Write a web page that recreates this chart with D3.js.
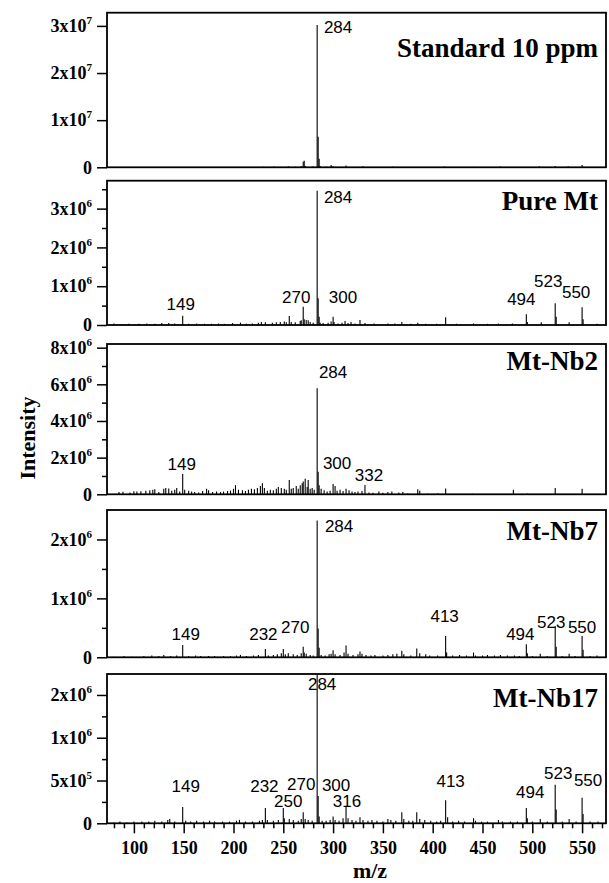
<!DOCTYPE html>
<html>
<head>
<meta charset="utf-8">
<script src="https://cdn.jsdelivr.net/npm/d3@7"></script>
<style>
  body { margin: 0; background: #fff; }
</style>
</head>
<body>
<svg id="chart" width="609" height="883"></svg>
<script>
// ---- data ----
const panelNames = ['Standard 10 ppm', 'Pure Mt', 'Mt-Nb2', 'Mt-Nb7', 'Mt-Nb17'];
const panelMax = [3.28e7, 3.72e6, 8.2e6, 2.5e6, 1.745e6];

const yTickValues = [
  [0, 1e7, 2e7, 3e7],
  [0, 1e6, 2e6, 3e6],
  [0, 2e6, 4e6, 6e6, 8e6],
  [0, 1e6, 2e6],
  [0, 5e5, 1e6, 1.5e6]
];
// labels as printed (the 1.5x10^6 tick is printed rounded as 2x10^6)
const yTickLabels = [
  ['0', '1x10^7', '2x10^7', '3x10^7'],
  ['0', '1x10^6', '2x10^6', '3x10^6'],
  ['0', '2x10^6', '4x10^6', '6x10^6', '8x10^6'],
  ['0', '1x10^6', '2x10^6'],
  ['0', '5x10^5', '1x10^6', '2x10^6']
];
const yMinorTicks = [
  [],
  [5e5, 1.5e6, 2.5e6, 3.5e6],
  [1e6, 3e6, 5e6, 7e6],
  [5e5, 1.5e6],
  [2.5e5, 7.5e5, 1.25e6]
];

const xTickValues = [100, 150, 200, 250, 300, 350, 400, 450, 500, 550];
const xMinorTicks = [80, 90, 110, 120, 130, 140, 160, 170, 180, 190, 210, 220, 230, 240,
  260, 270, 280, 290, 310, 320, 330, 340, 360, 370, 380, 390, 410, 420, 430, 440,
  460, 470, 480, 490, 510, 520, 530, 540, 560, 570];

// spectra: m/z and intensity
const stdMz  = [230, 241, 255, 262, 268, 270, 271, 272, 280, 284, 285, 286, 287, 293, 298, 300, 313, 330, 360, 412, 441, 468, 507, 523, 536, 550];
const stdInt = [1e5, 1.5e5, 2e5, 1e5, 3e5, 1.2e6, 1.4e6, 3e5, 2e5, 3.02e7, 6.5e6, 1.8e6, 3e5, 1e5, 5e5, 3e5, 4e5, 2e5, 1.5e5, 1.5e5, 1e5, 1.5e5, 2e5, 3e5, 2e5, 5e5];

const pureMz  = [80, 88, 95, 105, 113, 121, 128, 135, 141, 149, 155, 163, 171, 178, 185, 191, 199, 207, 213, 219, 225, 228, 232, 239, 243, 247, 251, 253, 256, 258, 262, 267, 268, 270, 271, 273, 275, 277, 280, 284, 285, 286, 287, 290, 295, 298, 300, 301, 305, 309, 312, 315, 318, 322, 327, 332, 341, 355, 362, 369, 378, 385, 393, 404, 413, 424, 441, 455, 466, 480, 494, 495, 509, 523, 524, 537, 550, 551, 565];
const pureInt = [0.04e6, 0.02e6, 0.03e6, 0.03e6, 0.04e6, 0.03e6, 0.05e6, 0.05e6, 0.04e6, 0.24e6, 0.03e6, 0.04e6, 0.03e6, 0.03e6, 0.04e6, 0.03e6, 0.05e6, 0.06e6, 0.03e6, 0.04e6, 0.06e6, 0.08e6, 0.07e6, 0.06e6, 0.07e6, 0.08e6, 0.09e6, 0.07e6, 0.23e6, 0.08e6, 0.07e6, 0.1e6, 0.12e6, 0.47e6, 0.15e6, 0.13e6, 0.12e6, 0.08e6, 0.06e6, 3.46e6, 0.69e6, 0.21e6, 0.06e6, 0.05e6, 0.06e6, 0.09e6, 0.21e6, 0.08e6, 0.04e6, 0.06e6, 0.1e6, 0.05e6, 0.08e6, 0.04e6, 0.13e6, 0.05e6, 0.04e6, 0.04e6, 0.04e6, 0.08e6, 0.03e6, 0.06e6, 0.03e6, 0.03e6, 0.2e6, 0.03e6, 0.04e6, 0.03e6, 0.04e6, 0.04e6, 0.28e6, 0.08e6, 0.07e6, 0.56e6, 0.21e6, 0.07e6, 0.46e6, 0.15e6, 0.03e6];

const nb2Mz  = [85, 89, 96, 100, 103, 107, 112, 116, 119, 121, 125, 130, 132, 135, 138, 141, 143, 146, 149, 151, 155, 158, 161, 165, 169, 173, 175, 179, 183, 187, 190, 194, 197, 200, 202, 205, 209, 212, 215, 218, 221, 224, 227, 229, 231, 234, 237, 240, 243, 245, 248, 251, 253, 256, 258, 260, 263, 265, 267, 269, 270, 272, 274, 275, 277, 279, 281, 284, 285, 286, 288, 291, 294, 297, 300, 302, 304, 307, 310, 313, 316, 319, 322, 325, 329, 332, 336, 340, 346, 350, 355, 359, 366, 370, 375, 385, 387, 395, 405, 413, 440, 481, 495, 523, 550];
const nb2Int = [0.12e6, 0.14e6, 0.1e6, 0.17e6, 0.15e6, 0.16e6, 0.2e6, 0.22e6, 0.25e6, 0.28e6, 0.12e6, 0.3e6, 0.35e6, 0.32e6, 0.2e6, 0.25e6, 0.35e6, 0.15e6, 1.11e6, 0.25e6, 0.2e6, 0.15e6, 0.12e6, 0.1e6, 0.18e6, 0.3e6, 0.22e6, 0.12e6, 0.15e6, 0.12e6, 0.15e6, 0.18e6, 0.2e6, 0.3e6, 0.5e6, 0.25e6, 0.22e6, 0.18e6, 0.25e6, 0.3e6, 0.28e6, 0.35e6, 0.45e6, 0.6e6, 0.35e6, 0.2e6, 0.25e6, 0.22e6, 0.3e6, 0.4e6, 0.35e6, 0.3e6, 0.25e6, 0.78e6, 0.3e6, 0.35e6, 0.45e6, 0.3e6, 0.5e6, 0.6e6, 0.7e6, 0.85e6, 0.4e6, 0.78e6, 0.3e6, 0.35e6, 0.25e6, 5.79e6, 1.23e6, 0.5e6, 0.3e6, 0.22e6, 0.15e6, 0.2e6, 0.56e6, 0.45e6, 0.2e6, 0.25e6, 0.18e6, 0.3e6, 0.22e6, 0.15e6, 0.12e6, 0.15e6, 0.18e6, 0.51e6, 0.1e6, 0.08e6, 0.15e6, 0.08e6, 0.12e6, 0.15e6, 0.1e6, 0.12e6, 0.06e6, 0.28e6, 0.2e6, 0.05e6, 0.06e6, 0.32e6, 0.03e6, 0.25e6, 0.04e6, 0.35e6, 0.3e6];

const nb7Mz  = [80, 90, 98, 110, 118, 125, 130, 137, 143, 149, 155, 162, 167, 175, 181, 190, 197, 203, 207, 213, 220, 225, 232, 235, 240, 244, 248, 250, 252, 255, 260, 264, 268, 270, 271, 273, 277, 280, 284, 285, 286, 288, 292, 296, 298, 300, 302, 307, 311, 313, 315, 320, 325, 327, 329, 333, 338, 342, 350, 355, 360, 364, 369, 371, 378, 384, 387, 393, 397, 405, 413, 414, 420, 427, 434, 441, 443, 450, 455, 462, 468, 475, 482, 487, 494, 495, 500, 508, 515, 523, 524, 530, 537, 543, 550, 551, 558, 565];
const nb7Int = [0.01e6, 0.02e6, 0.01e6, 0.02e6, 0.03e6, 0.02e6, 0.04e6, 0.02e6, 0.03e6, 0.21e6, 0.02e6, 0.03e6, 0.02e6, 0.02e6, 0.02e6, 0.02e6, 0.02e6, 0.03e6, 0.04e6, 0.02e6, 0.03e6, 0.04e6, 0.14e6, 0.03e6, 0.04e6, 0.05e6, 0.07e6, 0.14e6, 0.05e6, 0.07e6, 0.05e6, 0.04e6, 0.07e6, 0.18e6, 0.08e6, 0.06e6, 0.04e6, 0.03e6, 2.32e6, 0.49e6, 0.16e6, 0.04e6, 0.03e6, 0.05e6, 0.06e6, 0.12e6, 0.05e6, 0.04e6, 0.08e6, 0.2e6, 0.06e6, 0.04e6, 0.05e6, 0.1e6, 0.06e6, 0.04e6, 0.03e6, 0.04e6, 0.03e6, 0.04e6, 0.05e6, 0.06e6, 0.11e6, 0.05e6, 0.03e6, 0.15e6, 0.07e6, 0.05e6, 0.03e6, 0.03e6, 0.36e6, 0.08e6, 0.03e6, 0.04e6, 0.03e6, 0.08e6, 0.03e6, 0.03e6, 0.04e6, 0.03e6, 0.04e6, 0.03e6, 0.03e6, 0.02e6, 0.22e6, 0.07e6, 0.02e6, 0.06e6, 0.02e6, 0.53e6, 0.18e6, 0.02e6, 0.06e6, 0.02e6, 0.36e6, 0.13e6, 0.02e6, 0.03e6];

const nb17Mz  = [80, 86, 93, 100, 108, 115, 121, 128, 134, 136, 141, 149, 152, 157, 163, 170, 176, 181, 189, 196, 203, 206, 212, 219, 226, 229, 232, 234, 240, 245, 250, 251, 256, 260, 265, 268, 270, 272, 275, 279, 284, 285, 286, 289, 293, 297, 300, 302, 306, 310, 313, 315, 319, 323, 327, 330, 335, 339, 344, 350, 355, 358, 363, 369, 371, 376, 380, 384, 387, 392, 398, 404, 408, 413, 415, 420, 426, 432, 441, 443, 449, 455, 466, 470, 478, 485, 494, 495, 500, 508, 515, 523, 524, 530, 537, 544, 550, 551, 558, 566];
const nb17Int = [0.01e6, 0.02e6, 0.01e6, 0.02e6, 0.02e6, 0.02e6, 0.03e6, 0.02e6, 0.04e6, 0.05e6, 0.02e6, 0.19e6, 0.03e6, 0.02e6, 0.03e6, 0.02e6, 0.03e6, 0.02e6, 0.02e6, 0.02e6, 0.03e6, 0.04e6, 0.02e6, 0.02e6, 0.03e6, 0.04e6, 0.18e6, 0.04e6, 0.03e6, 0.04e6, 0.18e6, 0.06e6, 0.05e6, 0.04e6, 0.03e6, 0.05e6, 0.13e6, 0.05e6, 0.04e6, 0.03e6, 1.74e6, 0.32e6, 0.08e6, 0.03e6, 0.03e6, 0.04e6, 0.08e6, 0.04e6, 0.03e6, 0.06e6, 0.19e6, 0.06e6, 0.04e6, 0.03e6, 0.07e6, 0.04e6, 0.03e6, 0.04e6, 0.03e6, 0.02e6, 0.05e6, 0.04e6, 0.03e6, 0.13e6, 0.05e6, 0.03e6, 0.03e6, 0.13e6, 0.05e6, 0.04e6, 0.03e6, 0.02e6, 0.03e6, 0.27e6, 0.07e6, 0.02e6, 0.03e6, 0.02e6, 0.06e6, 0.03e6, 0.02e6, 0.02e6, 0.04e6, 0.02e6, 0.02e6, 0.02e6, 0.18e6, 0.06e6, 0.02e6, 0.05e6, 0.02e6, 0.45e6, 0.16e6, 0.02e6, 0.05e6, 0.02e6, 0.3e6, 0.11e6, 0.02e6, 0.02e6];

// peak labels: text, centre m/z, baseline intensity
const stdLabels  = [['284', 305, 2.84e7]];
const pureLabels = [['284', 305, 3.14e6], ['149', 147, 0.39e6], ['270', 263, 0.56e6], ['300', 310, 0.56e6],
                    ['494', 489, 0.52e6], ['523', 516, 0.99e6], ['550', 544, 0.69e6]];
const nb2Labels  = [['284', 300, 6.34e6], ['149', 148, 1.33e6], ['300', 304, 1.36e6], ['332', 336, 0.74e6]];
const nb7Labels  = [['284', 306, 2.13e6], ['149', 152, 0.29e6], ['232', 230, 0.29e6], ['270', 262, 0.42e6],
                    ['413', 412, 0.6e6], ['494', 488, 0.29e6], ['523', 519, 0.49e6], ['550', 550, 0.41e6]];
const nb17Labels = [['284', 289, 1.56e6], ['149', 152, 0.37e6], ['232', 231, 0.36e6], ['270', 268, 0.39e6],
                    ['300', 303, 0.38e6], ['250', 255, 0.19e6], ['316', 314, 0.19e6], ['413', 418, 0.42e6],
                    ['494', 498, 0.29e6], ['523', 526, 0.52e6], ['550', 556, 0.44e6]];

const spectra = [
  [stdMz, stdInt, stdLabels],
  [pureMz, pureInt, pureLabels],
  [nb2Mz, nb2Int, nb2Labels],
  [nb7Mz, nb7Int, nb7Labels],
  [nb17Mz, nb17Int, nb17Labels]
];

// ---- layout ----
const svg = d3.select('#chart');
const serif = "'Liberation Serif', 'Times New Roman', serif";
const sans = "'Liberation Sans', Arial, sans-serif";
const left = 107, right = 606;
const panelTop = [12.7, 180.7, 344, 510, 674];
const panelBottom = [167.3, 325, 494.3, 657.3, 823.3];
const titleY = [56.7, 210, 370, 540, 706.7];

const x = d3.scaleLinear().domain([73, 574]).range([left, right]);

spectra.forEach(([mz, inten, labels], i) => {
  const y = d3.scaleLinear().domain([0, panelMax[i]]).range([panelBottom[i], panelTop[i]]);
  const g = svg.append('g');

  // sticks
  g.selectAll('line.peak')
    .data(d3.zip(mz, inten))
    .join('line')
    .attr('class', 'peak')
    .attr('x1', d => x(d[0]))
    .attr('x2', d => x(d[0]))
    .attr('y1', y(0))
    .attr('y2', d => y(d[1]))
    .attr('stroke', '#000')
    .attr('stroke-width', 1.1);

  // frame
  g.append('rect')
    .attr('x', left)
    .attr('y', panelTop[i])
    .attr('width', right - left)
    .attr('height', panelBottom[i] - panelTop[i])
    .attr('fill', 'none')
    .attr('stroke', '#000')
    .attr('stroke-width', 1.8);

  // minor y ticks
  g.append('g')
    .attr('transform', `translate(${left},0)`)
    .call(d3.axisLeft(y).tickValues(yMinorTicks[i]).tickSize(5).tickSizeOuter(0).tickFormat(''))
    .call(a => a.select('.domain').remove())
    .selectAll('line').attr('stroke-width', 1.5);

  // major y ticks
  const ya = g.append('g')
    .attr('transform', `translate(${left},0)`)
    .call(d3.axisLeft(y).tickValues(yTickValues[i]).tickSize(10).tickSizeOuter(0).tickPadding(5)
      .tickFormat(() => ''));
  ya.select('.domain').remove();
  ya.selectAll('line').attr('stroke-width', 1.5);
  ya.selectAll('text')
    .attr('font-family', serif)
    .attr('font-weight', 'bold')
    .attr('font-size', 18)
    .each(function (d, k) {
      const parts = yTickLabels[i][k].split('^');
      const t = d3.select(this);
      t.append('tspan').text(parts[0]);
      if (parts[1]) {
        t.append('tspan').attr('font-size', 11).attr('dy', -8).text(parts[1]);
      }
    });

  // panel name
  g.append('text')
    .attr('x', 598)
    .attr('y', titleY[i])
    .attr('text-anchor', 'end')
    .attr('font-family', serif)
    .attr('font-weight', 'bold')
    .attr('font-size', 27)
    .text(panelNames[i]);

  // peak labels
  g.selectAll('text.lab')
    .data(labels)
    .join('text')
    .attr('class', 'lab')
    .attr('x', d => x(d[1]))
    .attr('y', d => y(d[2]))
    .attr('text-anchor', 'middle')
    .attr('font-family', sans)
    .attr('font-size', 17)
    .text(d => d[0]);

  // x axis on the bottom panel only
  if (i === spectra.length - 1) {
    g.append('g')
      .attr('transform', `translate(0,${panelBottom[i]})`)
      .call(d3.axisBottom(x).tickValues(xMinorTicks).tickSize(5).tickSizeOuter(0).tickFormat(''))
      .call(a => a.select('.domain').remove())
      .selectAll('line').attr('stroke-width', 1.5);
    const xa = g.append('g')
      .attr('transform', `translate(0,${panelBottom[i]})`)
      .call(d3.axisBottom(x).tickValues(xTickValues).tickSize(10).tickSizeOuter(0).tickPadding(8));
    xa.select('.domain').remove();
    xa.selectAll('line').attr('stroke-width', 1.5);
    xa.selectAll('text')
      .attr('font-family', serif)
      .attr('font-weight', 'bold')
      .attr('font-size', 18);
  }
});

// axis titles
svg.append('text')
  .attr('transform', 'translate(35,438) rotate(-90)')
  .attr('text-anchor', 'middle')
  .attr('font-family', serif)
  .attr('font-weight', 'bold')
  .attr('font-size', 22)
  .text('Intensity');

svg.append('text')
  .attr('x', 370)
  .attr('y', 878)
  .attr('text-anchor', 'middle')
  .attr('font-family', serif)
  .attr('font-weight', 'bold')
  .attr('font-size', 22)
  .text('m/z');
</script>
</body>
</html>
